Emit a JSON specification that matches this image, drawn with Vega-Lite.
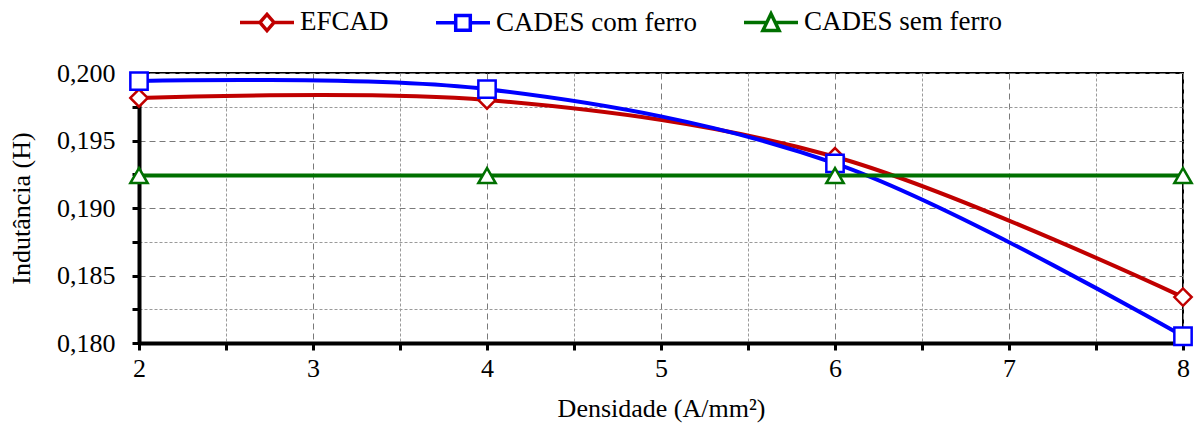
{
  "$schema": "https://vega.github.io/schema/vega-lite/v6.json",
  "width": 1044,
  "height": 270,
  "autosize": {"type": "none"},
  "padding": {"left": 139, "top": 73, "right": 12, "bottom": 86},
  "background": "white",
  "config": {
    "view": {"stroke": "black", "strokeWidth": 2},
    "font": "Liberation Serif"
  },
  "data": {
    "values": [
      {"x": 2, "y": 0.19815, "series": "EFCAD"},
      {"x": 4, "y": 0.1980, "series": "EFCAD"},
      {"x": 6, "y": 0.1938, "series": "EFCAD"},
      {"x": 8, "y": 0.1834, "series": "EFCAD"},
      {"x": 2, "y": 0.1994, "series": "CADES com ferro"},
      {"x": 4, "y": 0.1988, "series": "CADES com ferro"},
      {"x": 6, "y": 0.1933, "series": "CADES com ferro"},
      {"x": 8, "y": 0.1805, "series": "CADES com ferro"},
      {"x": 2, "y": 0.1924, "series": "CADES sem ferro"},
      {"x": 4, "y": 0.1924, "series": "CADES sem ferro"},
      {"x": 6, "y": 0.1924, "series": "CADES sem ferro"},
      {"x": 8, "y": 0.1924, "series": "CADES sem ferro"}
    ]
  },
  "encoding": {
    "x": {
      "field": "x", "type": "quantitative",
      "scale": {"domain": [2, 8], "nice": false, "zero": false},
      "axis": {
        "title": "Densidade (A/mm²)",
        "values": [2, 2.5, 3, 3.5, 4, 4.5, 5, 5.5, 6, 6.5, 7, 7.5, 8],
        "labelExpr": "datum.value % 1 == 0 ? format(datum.value, 'd') : ''",
        "labelFont": "Liberation Serif", "labelFontSize": 26, "labelColor": "black",
        "labelPadding": 5, "labelFlush": false, "labelOverlap": false,
        "titleFont": "Liberation Serif", "titleFontSize": 26, "titleFontWeight": "normal", "titleColor": "black",
        "titlePadding": 14,
        "domainColor": "black", "domainWidth": 4,
        "tickColor": "black", "tickWidth": 3, "tickSize": 7,
        "grid": true,
        "gridColor": {"condition": {"test": "datum.value % 1 == 0", "value": "#7a7a7a"}, "value": "#9a9a9a"},
        "gridWidth": 1,
        "gridDash": {"condition": {"test": "datum.value % 1 == 0", "value": [6, 4]}, "value": [3, 2]}
      }
    },
    "y": {
      "field": "y", "type": "quantitative",
      "scale": {"domain": [0.18, 0.2], "nice": false, "zero": false},
      "axis": {
        "title": "Indutância (H)",
        "values": [0.18, 0.1825, 0.185, 0.1875, 0.19, 0.1925, 0.195, 0.1975, 0.2],
        "labelExpr": "round(datum.value * 10000) % 50 == 0 ? replace(format(datum.value, '.3f'), '.', ',') : ''",
        "labelFont": "Liberation Serif", "labelFontSize": 26, "labelColor": "black",
        "labelPadding": 17, "labelFlush": false, "labelOverlap": false,
        "titleFont": "Liberation Serif", "titleFontSize": 26, "titleFontWeight": "normal", "titleColor": "black",
        "titlePadding": 22,
        "domainColor": "black", "domainWidth": 4,
        "tickColor": "black", "tickWidth": 3, "tickSize": 7,
        "grid": true,
        "gridColor": {"condition": {"test": "round(datum.value * 10000) % 50 == 0", "value": "#7a7a7a"}, "value": "#9a9a9a"},
        "gridWidth": 1,
        "gridDash": {"condition": {"test": "round(datum.value * 10000) % 50 == 0", "value": [6, 4]}, "value": [3, 2]}
      }
    }
  },
  "layer": [
    {
      "mark": {"type": "line", "interpolate": "catmull-rom", "strokeWidth": 4, "clip": false},
      "encoding": {
        "stroke": {
          "field": "series", "type": "nominal",
          "sort": ["EFCAD", "CADES com ferro", "CADES sem ferro"],
          "scale": {"domain": ["EFCAD", "CADES com ferro", "CADES sem ferro"], "range": ["#C00000", "#0000FF", "#007000"]},
          "legend": {
            "title": null,
            "orient": "none",
            "direction": "horizontal",
            "legendX": 99,
            "legendY": -80,
            "labelFont": "Liberation Serif", "labelFontSize": 27, "labelColor": "black",
            "labelLimit": 400,
            "labelOffset": 4,
            "columnPadding": 40,
            "symbolSize": 2916,
            "symbolStrokeWidth": 3.5,
            "symbolFillColor": "white",
            "encode": {
              "symbols": {
                "update": {
                  "shape": {"signal": "datum.value == 'EFCAD' ? 'M-1,0H-0.26M0.26,0H1M-0.26,0L0,-0.3L0.26,0L0,0.3Z' : datum.value == 'CADES com ferro' ? 'M-1,0H-0.27M0.27,0H1M-0.27,-0.27H0.27V0.27H-0.27Z' : 'M-1,0H-0.16M0.16,0H1M-0.3,0.3L0,-0.32L0.3,0.3Z'"},
                  "fill": {"value": "white"}
                }
              }
            }
          }
        }
      }
    },
    {
      "transform": [{"filter": "datum.series == 'EFCAD'"}],
      "mark": {"type": "point", "shape": "diamond", "size": 300, "filled": false, "fill": "white", "fillOpacity": 1, "stroke": "#C00000", "strokeWidth": 2.5, "opacity": 1, "clip": false}
    },
    {
      "transform": [{"filter": "datum.series == 'CADES com ferro'"}],
      "mark": {"type": "point", "shape": "square", "size": 300, "filled": false, "fill": "white", "fillOpacity": 1, "stroke": "#0000FF", "strokeWidth": 2.5, "opacity": 1, "clip": false}
    },
    {
      "transform": [{"filter": "datum.series == 'CADES sem ferro'"}],
      "mark": {"type": "point", "shape": "triangle-up", "size": 300, "filled": false, "fill": "white", "fillOpacity": 1, "stroke": "#007000", "strokeWidth": 2.5, "opacity": 1, "clip": false}
    }
  ]
}
